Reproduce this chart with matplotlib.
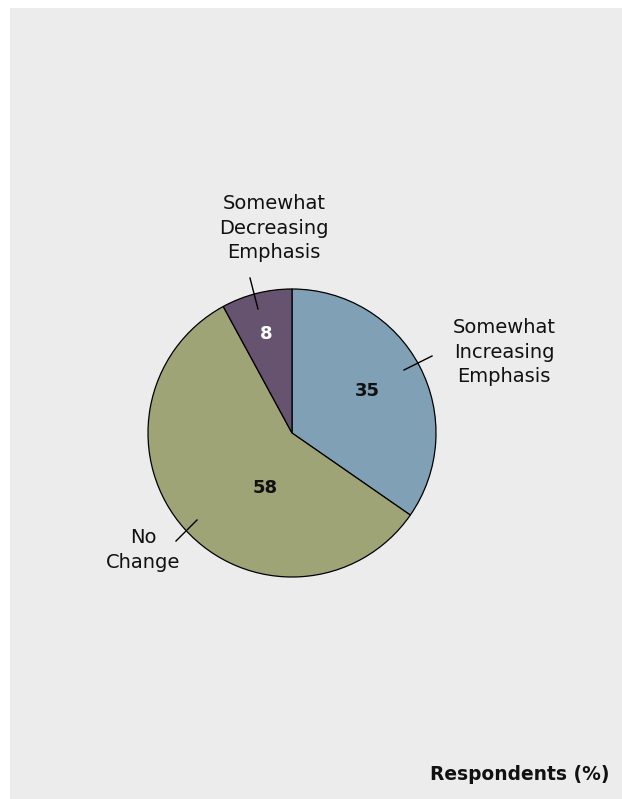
import matplotlib
matplotlib.use("Agg")
import matplotlib.pyplot as plt
from matplotlib.patches import Rectangle

# Survey shares, drawn clockwise from 12 o'clock
categories = ["Somewhat\nIncreasing\nEmphasis", "No\nChange", "Somewhat\nDecreasing\nEmphasis"]
values = [35, 58, 8]
colors = ["#7fa0b5", "#9ea476", "#66536f"]
value_colors = ["#111111", "#111111", "#ffffff"]

W, H = 622, 799
fig = plt.figure(figsize=(W / 100, H / 100), dpi=100)
ax = fig.add_axes([0, 0, 1, 1])

# grey panel
ax.add_patch(Rectangle((10, 0), W - 10, H - 8, facecolor="#ececec", edgecolor="none", zorder=0))

cx, cy, r = 292, H - 433, 144
wedges, _ = ax.pie(values, colors=colors, startangle=90, counterclock=False,
                   center=(cx, cy), radius=r, frame=True,
                   wedgeprops=dict(edgecolor="black", linewidth=0.9))
ax.set_xlim(0, W)
ax.set_ylim(0, H)
ax.set_aspect("equal")
ax.axis("off")

font = "DejaVu Sans"
fs = 14

# value labels inside slices
value_pos = [(367, 391), (265, 488), (266, 334)]
for v, (x, y), c in zip(values, value_pos, value_colors):
    ax.text(x, H - y, str(v), ha="center", va="center", fontsize=13,
            fontweight="bold", color=c, family=font)

# category labels with leader lines
label_pos = [(504, 352), (143, 550), (274, 228)]
leaders = [((404, 370), (432, 356)), ((176, 541), (197, 520)), ((250, 278), (258, 309))]
for lab, (x, y), ((x0, y0), (x1, y1)) in zip(categories, label_pos, leaders):
    ax.text(x, H - y, lab, ha="center", va="center", fontsize=fs,
            color="#111111", family=font, linespacing=1.38)
    ax.plot([x0, x1], [H - y0, H - y1], color="black", lw=1.0)

ax.text(609, H - 775, "Respondents (%)", ha="right", va="center", fontsize=13.4,
        fontweight="bold", color="#111111", family=font)

fig.savefig("out.png", dpi=100, facecolor="white")
